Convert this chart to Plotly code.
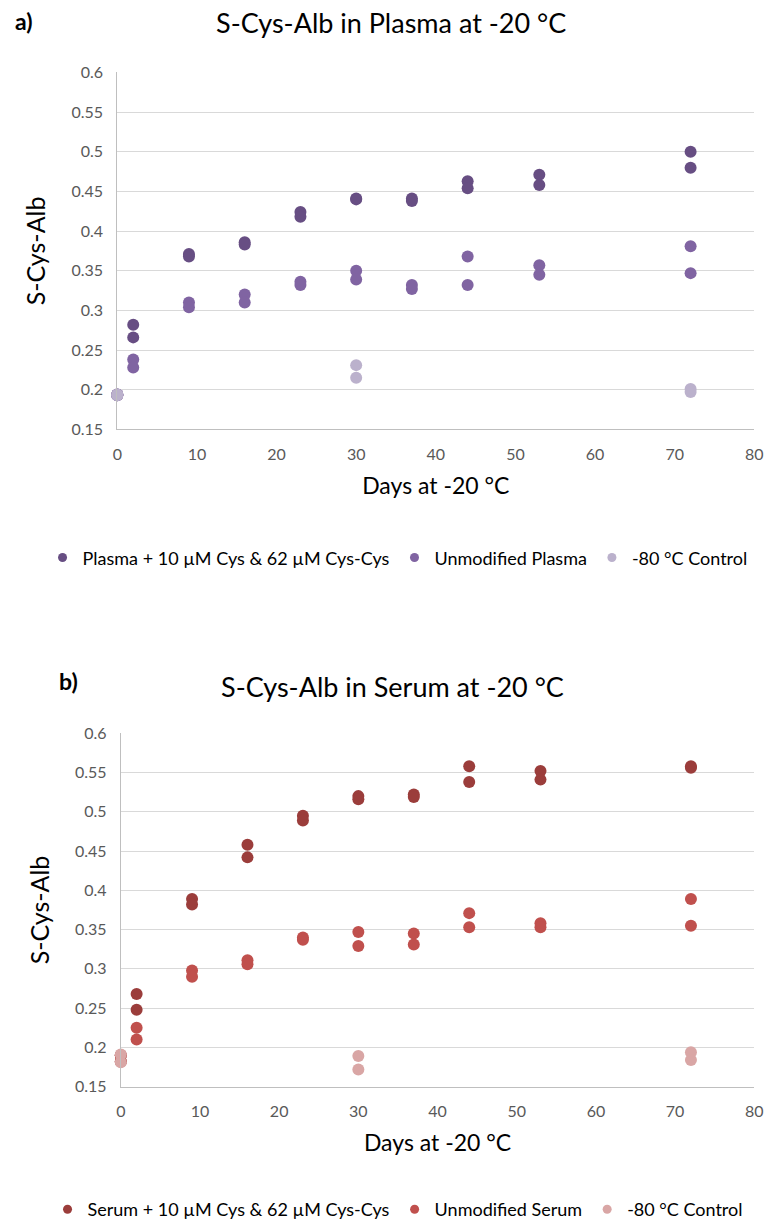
import plotly.graph_objects as go

# ---------------- Data ----------------
# a) Plasma
plasma_spiked_days = [0, 0, 2, 2, 9, 9, 16, 16, 23, 23, 30, 30, 37, 37, 44, 44, 53, 53, 72, 72]
plasma_spiked_vals = [0.194, 0.193, 0.282, 0.266, 0.371, 0.368, 0.386, 0.383, 0.424, 0.418, 0.441, 0.440,
                      0.441, 0.438, 0.463, 0.454, 0.471, 0.458, 0.500, 0.480]
plasma_unmod_days = [0, 0, 2, 2, 9, 9, 16, 16, 23, 23, 30, 30, 37, 37, 44, 44, 53, 53, 72, 72]
plasma_unmod_vals = [0.194, 0.193, 0.238, 0.228, 0.310, 0.304, 0.320, 0.310, 0.336, 0.332, 0.350, 0.339,
                     0.332, 0.327, 0.368, 0.332, 0.357, 0.345, 0.381, 0.347]
plasma_ctrl_days = [0, 0, 30, 30, 72, 72]
plasma_ctrl_vals = [0.194, 0.193, 0.231, 0.215, 0.201, 0.197]

# b) Serum
serum_spiked_days = [0, 0, 2, 2, 9, 9, 16, 16, 23, 23, 30, 30, 37, 37, 44, 44, 53, 53, 72, 72]
serum_spiked_vals = [0.190, 0.182, 0.268, 0.248, 0.389, 0.382, 0.458, 0.442, 0.495, 0.489, 0.520, 0.516,
                     0.522, 0.519, 0.558, 0.538, 0.552, 0.541, 0.558, 0.556]
serum_unmod_days = [0, 0, 2, 2, 9, 9, 16, 16, 23, 23, 30, 30, 37, 37, 44, 44, 53, 53, 72, 72]
serum_unmod_vals = [0.190, 0.182, 0.225, 0.210, 0.298, 0.290, 0.311, 0.306, 0.340, 0.337, 0.347, 0.329,
                    0.345, 0.331, 0.371, 0.353, 0.358, 0.353, 0.389, 0.355]
serum_ctrl_days = [0, 0, 30, 30, 72, 72]
serum_ctrl_vals = [0.191, 0.181, 0.189, 0.172, 0.194, 0.184]

x_ticks = [0, 10, 20, 30, 40, 50, 60, 70, 80]
y_ticks = [0.15, 0.2, 0.25, 0.3, 0.35, 0.4, 0.45, 0.5, 0.55, 0.6]
y_tick_labels = ["0.15", "0.2", "0.25", "0.3", "0.35", "0.4", "0.45", "0.5", "0.55", "0.6"]

# ---------------- Styles ----------------
FONT = "Lato, 'Open Sans', sans-serif"
TICK_COLOR = "#595959"
GRID = "#d9d9d9"
AXIS_LINE = "#bfbfbf"
MS = 12

W, H = 771, 1228
SX, OFFX = 0.988, 5.0
SY, OFFY = 0.984, 9.0

fig = go.Figure()

def add(days, vals, name, color, xa, ya, legend):
    fig.add_trace(go.Scatter(
        x=days, y=vals, mode="markers", name=name, showlegend=False,
        marker=dict(size=MS, color=color, line=dict(width=0)),
        xaxis=xa, yaxis=ya, cliponaxis=False,
    ))
    # legend entry (smaller swatch, as in the reference)
    fig.add_trace(go.Scatter(
        x=[None], y=[None], mode="markers", name=name, showlegend=True,
        marker=dict(size=9, color=color, line=dict(width=0)),
        xaxis=xa, yaxis=ya, legend=legend,
    ))

add(plasma_spiked_days, plasma_spiked_vals, "Plasma + 10 µM Cys & 62 µM Cys-Cys", "#674e83", "x", "y", "legend")
add(plasma_unmod_days, plasma_unmod_vals, "Unmodified Plasma", "#8064a2", "x", "y", "legend")
add(plasma_ctrl_days, plasma_ctrl_vals, "-80 °C Control", "#bbb1cc", "x", "y", "legend")

add(serum_spiked_days, serum_spiked_vals, "Serum + 10 µM Cys & 62 µM Cys-Cys", "#9b3d3b", "x2", "y2", "legend2")
add(serum_unmod_days, serum_unmod_vals, "Unmodified Serum", "#c0504d", "x2", "y2", "legend2")
add(serum_ctrl_days, serum_ctrl_vals, "-80 °C Control", "#d9a6a5", "x2", "y2", "legend2")

def px_y(p):
    return 1 - ((p - OFFY) / SY) / H

def px_x(p):
    return ((p - OFFX) / SX) / W

xaxis_common = dict(
    range=[0, 80], tickvals=x_ticks, showgrid=False, zeroline=False,
    showline=True, linecolor=AXIS_LINE, linewidth=1,
    tickfont=dict(family=FONT, size=16, color=TICK_COLOR),
    ticks="", ticklabelstandoff=10, ticklabeloverflow="allow",
    title=dict(text="Days at -20 °C", font=dict(family=FONT, size=23, color="#000000"), standoff=16),
)
yaxis_common = dict(
    range=[0.15, 0.6], tickvals=y_ticks, ticktext=y_tick_labels,
    showgrid=True, gridcolor=GRID, gridwidth=1, zeroline=False,
    showline=True, linecolor=AXIS_LINE, linewidth=1,
    tickfont=dict(family=FONT, size=16, color=TICK_COLOR),
    ticks="", ticklabelstandoff=10,
    title=dict(text="S-Cys-Alb", font=dict(family=FONT, size=25, color="#000000"), standoff=18),
)

fig.update_layout(
    width=W, height=H,
    margin=dict(l=0, r=0, t=0, b=0),
    paper_bgcolor="white", plot_bgcolor="white",
    font=dict(family=FONT),
    showlegend=True,
    xaxis=dict(domain=[px_x(118), px_x(759)], anchor="y", **xaxis_common),
    yaxis=dict(domain=[px_y(428.5), px_y(71.5)], anchor="x", **yaxis_common),
    xaxis2=dict(domain=[px_x(121.5), px_x(759)], anchor="y2", **xaxis_common),
    yaxis2=dict(domain=[px_y(1086), px_y(732.5)], anchor="x2", **yaxis_common),
    legend=dict(orientation="h", x=px_x(400), y=px_y(557), xanchor="center", yanchor="middle",
                font=dict(family=FONT, size=18, color="#000000"), itemwidth=30,
                bgcolor="rgba(0,0,0,0)"),
    legend2=dict(orientation="h", x=px_x(400), y=px_y(1209), xanchor="center", yanchor="middle",
                 font=dict(family=FONT, size=18, color="#000000"), itemwidth=30,
                 bgcolor="rgba(0,0,0,0)"),
    annotations=[
        dict(text="S-Cys-Alb in Plasma at -20 °C", x=px_x(393), y=px_y(22), xref="paper", yref="paper",
             showarrow=False, xanchor="center", yanchor="middle",
             font=dict(family=FONT, size=27, color="#000000")),
        dict(text="<b>a)</b>", x=px_x(13), y=px_y(20), xref="paper", yref="paper",
             showarrow=False, xanchor="left", yanchor="middle",
             font=dict(family=FONT, size=23, color="#000000")),
        dict(text="S-Cys-Alb in Serum at -20 °C", x=px_x(395), y=px_y(686), xref="paper", yref="paper",
             showarrow=False, xanchor="center", yanchor="middle",
             font=dict(family=FONT, size=27, color="#000000")),
        dict(text="<b>b)</b>", x=px_x(57), y=px_y(680), xref="paper", yref="paper",
             showarrow=False, xanchor="left", yanchor="middle",
             font=dict(family=FONT, size=23, color="#000000")),
    ],
)

fig.write_html("out.html")
